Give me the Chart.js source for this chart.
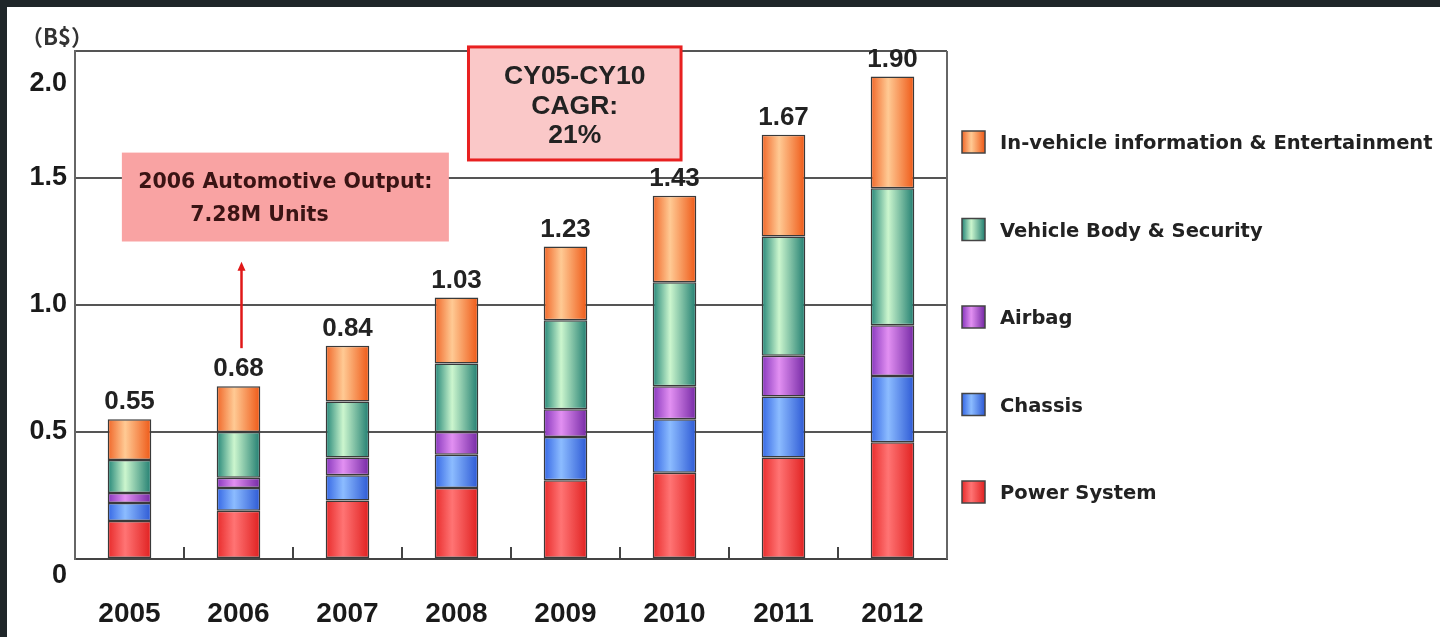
<!DOCTYPE html>
<html>
<head>
<meta charset="utf-8">
<script src="https://cdn.jsdelivr.net/npm/chart.js@4.4.0/dist/chart.umd.min.js"></script>
<style>
    html, body { margin: 0; padding: 0; background: #1f2629; }
    #wrap { position: absolute; left: 7px; top: 7px; width: 1433px; height: 630px; background: #fff; }
</style>
</head>
<body>
<div id="wrap"><canvas id="chart" width="1433" height="630"></canvas></div>
<script>
const years = ['2005', '2006', '2007', '2008', '2009', '2010', '2011', '2012'];
const powerSystem = [0.15, 0.19, 0.23, 0.28, 0.31, 0.34, 0.40, 0.46];
const chassis = [0.07, 0.09, 0.10, 0.13, 0.17, 0.21, 0.24, 0.26];
const airbag = [0.04, 0.04, 0.07, 0.09, 0.11, 0.13, 0.16, 0.20];
const bodySecurity = [0.13, 0.18, 0.22, 0.27, 0.35, 0.41, 0.47, 0.54];
const infoEntertainment = [0.16, 0.18, 0.22, 0.26, 0.29, 0.34, 0.40, 0.44];
const totals = [0.55, 0.68, 0.84, 1.03, 1.23, 1.43, 1.67, 1.90];

const outputNote = ['2006 Automotive Output:', '7.28M Units'];
const cagrNote = ['CY05-CY10', 'CAGR:', '21%'];

// gradient stops: left edge, highlight, right edge
const colors = {
    power: ['#e82a2a', '#ff7474', '#e02020'],
    chassis: ['#3466e4', '#8cbcff', '#2c58d4'],
    airbag: ['#8636bc', '#e290f2', '#7428a4'],
    body: ['#238577', '#ccf6ce', '#207d70'],
    info: ['#f06628', '#ffca94', '#ee5816']
};

const BAR_FRACTION = 0.8 * 0.5;

function barFill(stops) {
    return (ctx) => {
        const chart = ctx.chart;
        const xs = chart.scales.x;
        if (!xs || ctx.type !== 'data') return stops[1];
        const cx = xs.getPixelForValue(ctx.dataIndex);
        const half = xs.width / years.length * BAR_FRACTION / 2;
        if (!isFinite(cx) || !isFinite(half) || half <= 0) return stops[1];
        const g = chart.ctx.createLinearGradient(cx - half, 0, cx + half, 0);
        g.addColorStop(0, stops[0]);
        g.addColorStop(0.4, stops[1]);
        g.addColorStop(1, stops[2]);
        return g;
    };
}

function makeSet(label, data, stops) {
    return {
        label: label,
        data: data,
        backgroundColor: barFill(stops),
        borderColor: '#3a3a3a',
        borderWidth: 1.5,
        borderSkipped: false,
        barPercentage: 0.8,
        categoryPercentage: 0.5
    };
}

const datasets = [
    makeSet('Power System', powerSystem, colors.power),
    makeSet('Chassis', chassis, colors.chassis),
    makeSet('Airbag', airbag, colors.airbag),
    makeSet('Vehicle Body & Security', bodySecurity, colors.body),
    makeSet('In-vehicle information & Entertainment', infoEntertainment, colors.info)
];
const legendStops = [colors.info, colors.body, colors.airbag, colors.chassis, colors.power];

const decor = {
    id: 'decor',
    afterDatasetsDraw(chart) {
        const c = chart.ctx;
        const area = chart.chartArea;
        const xs = chart.scales.x;
        const ys = chart.scales.y;
        const step = xs.getPixelForValue(1) - xs.getPixelForValue(0);
        const px = (idx) => xs.getPixelForValue(0) + idx * step;

        c.save();
        // right border
        c.strokeStyle = '#666';
        c.lineWidth = 2;
        c.beginPath();
        c.moveTo(area.right, area.top);
        c.lineTo(area.right, area.bottom);
        c.stroke();

        // small inward ticks between categories
        c.strokeStyle = '#444';
        for (let i = 0; i < years.length - 1; i++) {
            const x = px(i + 0.5);
            c.beginPath();
            c.moveTo(x, area.bottom);
            c.lineTo(x, area.bottom - 12);
            c.stroke();
        }

        // totals above bars
        c.fillStyle = '#222';
        c.font = 'bold 26px "Liberation Sans", Arial, sans-serif';
        c.textAlign = 'center';
        c.textBaseline = 'bottom';
        totals.forEach((t, i) => {
            c.fillText(t.toFixed(2), xs.getPixelForValue(i), ys.getPixelForValue(t) - 4);
        });

        // 2006 output note
        let x0 = px(-0.07), x1 = px(2.93);
        let y0 = ys.getPixelForValue(1.6), y1 = ys.getPixelForValue(1.25);
        c.fillStyle = '#f9a3a3';
        c.fillRect(x0, y0, x1 - x0, y1 - y0);
        c.fillStyle = '#3a1414';
        c.font = 'bold 20.5px "DejaVu Sans", Verdana, sans-serif';
        c.textBaseline = 'middle';
        c.textAlign = 'center';
        const w1 = c.measureText(outputNote[0]).width;
        const mid = (x0 + x1) / 2;
        c.fillText(outputNote[0], mid, y0 + 30);
        c.textAlign = 'left';
        c.fillText(outputNote[1], mid - w1 / 2 + 52, y0 + 63);

        // arrow
        const ax = px(1) + 3;
        const ayBottom = ys.getPixelForValue(0.83), ayTop = ys.getPixelForValue(1.17);
        c.strokeStyle = '#e01818';
        c.fillStyle = '#e01818';
        c.lineWidth = 2.5;
        c.beginPath();
        c.moveTo(ax, ayBottom);
        c.lineTo(ax, ayTop + 6);
        c.stroke();
        c.beginPath();
        c.moveTo(ax, ayTop);
        c.lineTo(ax - 4, ayTop + 9);
        c.lineTo(ax + 4, ayTop + 9);
        c.closePath();
        c.fill();

        // CAGR note
        x0 = px(3.11); x1 = px(5.06);
        y0 = ys.getPixelForValue(2.016); y1 = ys.getPixelForValue(1.571);
        c.fillStyle = '#fac8c8';
        c.fillRect(x0, y0, x1 - x0, y1 - y0);
        c.strokeStyle = '#e82020';
        c.lineWidth = 3;
        c.strokeRect(x0, y0, x1 - x0, y1 - y0);
        c.fillStyle = '#222';
        c.font = 'bold 26.5px "Liberation Sans", Arial, sans-serif';
        c.textAlign = 'center';
        cagrNote.forEach((line, i) => {
            c.fillText(line, (x0 + x1) / 2, y0 + 30 + i * 29.5);
        });

        // legend
        const labels = datasets.map(d => d.label).reverse();
        c.font = 'bold 19.5px "DejaVu Sans", Verdana, sans-serif';
        c.textAlign = 'left';
        labels.forEach((label, i) => {
            const cy = area.top + 91 + i * 87.5;
            const bx = area.right + 15;
            const g = c.createLinearGradient(bx, 0, bx + 23, 0);
            g.addColorStop(0, legendStops[i][0]);
            g.addColorStop(0.4, legendStops[i][1]);
            g.addColorStop(1, legendStops[i][2]);
            c.fillStyle = g;
            c.fillRect(bx, cy - 11, 23, 22);
            c.strokeStyle = '#444';
            c.lineWidth = 1.5;
            c.strokeRect(bx, cy - 11, 23, 22);
            c.fillStyle = '#222';
            c.fillText(label, area.right + 53, cy + 2);
        });

        // unit
        c.fillStyle = '#333';
        c.font = 'bold 22px "Noto Sans CJK SC", sans-serif';
        c.textAlign = 'left';
        c.textBaseline = 'middle';
        c.fillText('（B$）', 14, 30);
        c.restore();
    }
};

new Chart(document.getElementById('chart'), {
    type: 'bar',
    data: { labels: years, datasets: datasets },
    plugins: [decor],
    options: {
        responsive: false,
        animation: false,
        layout: { padding: { left: 0, top: 44, right: 493, bottom: 0 } },
        plugins: {
            legend: { display: false },
            tooltip: { enabled: false }
        },
        scales: {
            x: {
                stacked: true,
                afterFit(scale) { scale.height = 78; },
                grid: { display: false },
                border: { display: true, color: '#444', width: 2 },
                ticks: {
                    padding: 30,
                    color: '#1a1a1a',
                    font: { family: '"Liberation Sans", Arial, sans-serif', size: 28, weight: 'bold' }
                }
            },
            y: {
                stacked: true,
                min: 0,
                max: 2,
                afterFit(scale) {
                    scale.width = 68;
                    scale.paddingTop = 0;
                    scale.paddingBottom = 0;
                },
                grid: { color: '#555', lineWidth: 2, drawTicks: false },
                border: { display: true, color: '#666', width: 2 },
                ticks: {
                    stepSize: 0.5,
                    padding: 8,
                    color: '#1a1a1a',
                    font: { family: '"Liberation Sans", Arial, sans-serif', size: 27, weight: 'bold' },
                    // the top and bottom labels sit lower than their lines in the original
                    callback: (v) => v === 0 ? ['', '0'] : v === 2 ? ['', '', '2.0'] : v.toFixed(1)
                }
            }
        }
    }
});
</script>
</body>
</html>
